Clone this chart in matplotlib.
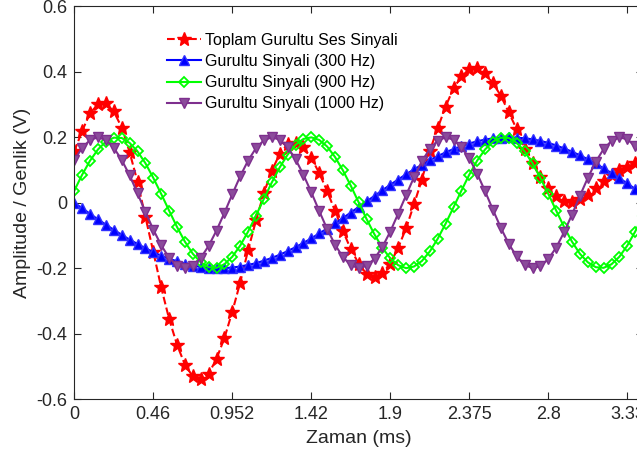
import numpy as np
import matplotlib.pyplot as plt

plt.rcParams['font.family'] = ['Liberation Sans', 'DejaVu Sans']

tick_labels = ['0', '0.46', '0.952', '1.42', '1.9', '2.375', '2.8', '3.33']
tick_pos = [0, 10, 20, 30, 40, 50, 60, 70]

# values, one per sample
toplam = [0.157, 0.220, 0.274, 0.301, 0.304, 0.279, 0.230, 0.155, 0.064, -0.043,
          -0.150, -0.259, -0.355, -0.434, -0.495, -0.531, -0.539, -0.523, -0.477, -0.414,
          -0.333, -0.244, -0.145, -0.054, 0.030, 0.098, 0.149, 0.180, 0.183, 0.170,
          0.137, 0.091, 0.036, -0.025, -0.086, -0.142, -0.186, -0.218, -0.226, -0.216,
          -0.186, -0.137, -0.078, -0.005, 0.071, 0.159, 0.228, 0.294, 0.350, 0.386,
          0.408, 0.411, 0.396, 0.365, 0.327, 0.276, 0.225, 0.165, 0.120, 0.078,
          0.044, 0.020, 0.005, 0.003, 0.012, 0.025, 0.044, 0.066, 0.084, 0.101,
          0.109, 0.122, 0.130]

g300 = [0.000, -0.017, -0.034, -0.051, -0.067, -0.083, -0.098, -0.113, -0.126, -0.139,
        -0.151, -0.162, -0.171, -0.179, -0.186, -0.192, -0.196, -0.199, -0.200, -0.200,
        -0.198, -0.195, -0.190, -0.185, -0.177, -0.169, -0.159, -0.148, -0.136, -0.123,
        -0.109, -0.094, -0.079, -0.063, -0.047, -0.030, -0.013, 0.004, 0.021, 0.038,
        0.055, 0.071, 0.087, 0.102, 0.116, 0.130, 0.142, 0.154, 0.164, 0.173,
        0.181, 0.188, 0.193, 0.197, 0.199, 0.200, 0.199, 0.197, 0.194, 0.189,
        0.183, 0.175, 0.166, 0.156, 0.145, 0.133, 0.120, 0.105, 0.091, 0.075,
        0.059, 0.042, 0.026]

g900 = [0.037, 0.086, 0.129, 0.163, 0.187, 0.199, 0.198, 0.183, 0.157, 0.121,
        0.076, 0.027, -0.024, -0.074, -0.119, -0.156, -0.182, -0.197, -0.199, -0.188,
        -0.165, -0.131, -0.088, -0.039, 0.012, 0.062, 0.108, 0.147, 0.177, 0.195,
        0.200, 0.192, 0.172, 0.140, 0.099, 0.052, 0.001, -0.050, -0.097, -0.138,
        -0.170, -0.191, -0.200, -0.195, -0.178, -0.149, -0.110, -0.064, -0.014, 0.037,
        0.086, 0.129, 0.163, 0.187, 0.199, 0.198, 0.183, 0.157, 0.121, 0.076,
        0.027, -0.024, -0.074, -0.119, -0.156, -0.182, -0.197, -0.199, -0.188, -0.165,
        -0.131, -0.088, -0.039]

g1000 = [0.131, 0.168, 0.192, 0.200, 0.192, 0.168, 0.131, 0.084, 0.029, -0.028,
         -0.082, -0.130, -0.168, -0.192, -0.200, -0.192, -0.169, -0.132, -0.085, -0.031,
         0.026, 0.081, 0.129, 0.167, 0.191, 0.200, 0.193, 0.170, 0.133, 0.086,
         0.032, -0.025, -0.080, -0.128, -0.166, -0.191, -0.200, -0.193, -0.171, -0.135,
         -0.088, -0.033, 0.023, 0.078, 0.127, 0.165, 0.190, 0.200, 0.193, 0.171,
         0.136, 0.089, 0.035, -0.022, -0.077, -0.126, -0.164, -0.190, -0.200, -0.194,
         -0.172, -0.137, -0.090, -0.036, 0.021, 0.076, 0.125, 0.164, 0.189, 0.200,
         0.194, 0.173, 0.138]

n = np.arange(len(g300))

W, H = 637, 461
fig = plt.figure(figsize=(W / 100, H / 100), dpi=100)
# the original picture is cropped on the right, so the axes end just past the edge
ax = fig.add_axes([74.3 / W, 62 / H, 568.8 / W, 392.5 / H])

purple = '#7E2F8E'
ax.plot(n, toplam, '--*', color='r', lw=1.5, ms=10.5, label='Toplam Gurultu Ses Sinyali')
ax.plot(n, g300, '-^', color='b', lw=1.5, ms=6.5, mfc='b', mec='#3030ff',
        label='Gurultu Sinyali (300 Hz)')
ax.plot(n, g900, '-D', color='#00ff00', lw=1.5, ms=5, mfc='none', mew=1.3,
        label='Gurultu Sinyali (900 Hz)')
ax.plot(n, g1000, '-v', color=purple, lw=1.5, ms=7, mfc='#8b4b9b', mec=purple,
        label='Gurultu Sinyali (1000 Hz)')

ax.set_xlim(0, 72)
ax.set_ylim(-0.6, 0.6)
ax.set_xticks(tick_pos)
ax.set_xticklabels(tick_labels)
ax.set_yticks([-0.6, -0.4, -0.2, 0, 0.2, 0.4, 0.6])
ax.set_yticklabels(['-0.6', '-0.4', '-0.2', '0', '0.2', '0.4', '0.6'])

dark = '#262626'
for s in ax.spines.values():
    s.set_color(dark)
    s.set_linewidth(0.8)
ax.tick_params(direction='in', length=5, width=0.8, colors=dark, labelsize=13,
               top=True, right=True, pad=5)
ax.set_xlabel('Zaman (ms)', fontsize=14, color=dark, labelpad=5)
ax.set_ylabel('Amplitude / Genlik (V)', fontsize=14, color=dark, labelpad=4)

ax.legend(loc='upper left', bbox_to_anchor=(167 / W, 1 - 33 / H),
          bbox_transform=fig.transFigure, frameon=False, fontsize=11.5,
          borderpad=0, borderaxespad=0, handlelength=2.1, handletextpad=0.25,
          labelspacing=0.38)

fig.savefig('out.png', dpi=100)
